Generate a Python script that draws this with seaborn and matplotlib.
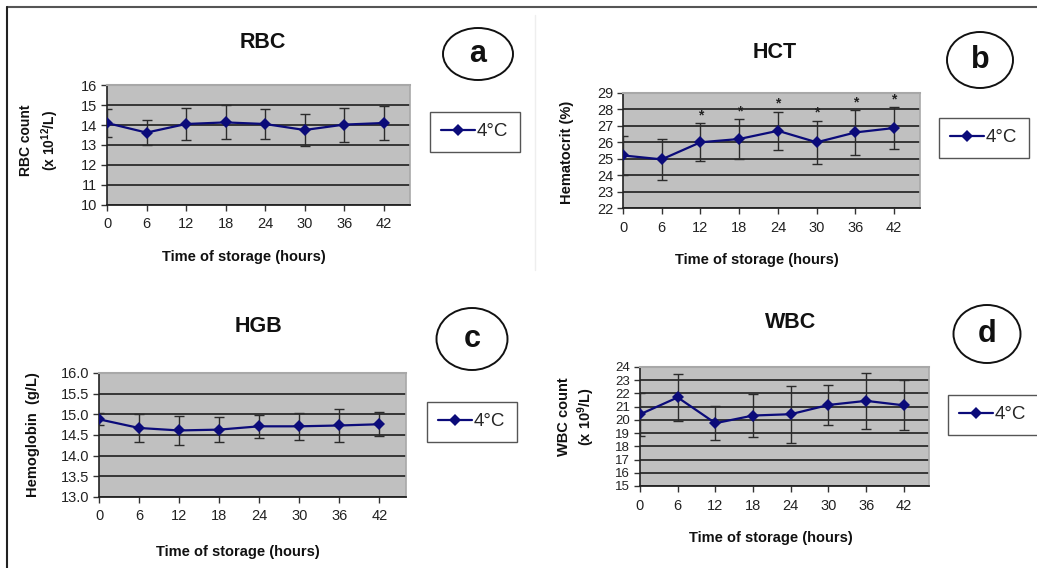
import matplotlib
matplotlib.use("Agg")
import matplotlib.pyplot as plt
import seaborn as sns
import pandas as pd
import numpy as np
from matplotlib.patches import Ellipse
from matplotlib.lines import Line2D

sns.set_theme(style="white")
plt.rcParams["font.family"] = ["Liberation Sans", "DejaVu Sans"]
plt.rcParams["mathtext.fontset"] = "custom"
plt.rcParams["mathtext.bf"] = "Liberation Sans:bold"
plt.rcParams["mathtext.rm"] = "Liberation Sans"
plt.rcParams["mathtext.default"] = "bf"

# dados (média e desvio padrão por tempo de armazenamento)
HORAS = [0, 6, 12, 18, 24, 30, 36, 42]

RBC_MEDIA = [14.1, 13.62, 14.05, 14.13, 14.05, 13.75, 14.02, 14.1]
RBC_DP = [0.7, 0.63, 0.8, 0.85, 0.77, 0.8, 0.85, 0.87]

HCT_MEDIA = [25.2, 24.96, 26.0, 26.2, 26.7, 26.0, 26.6, 26.87]
HCT_DP = [1.2, 1.25, 1.15, 1.2, 1.15, 1.3, 1.35, 1.25]
HCT_SIGNIF = [False, False, True, True, True, True, True, True]

HGB_MEDIA = [14.88, 14.67, 14.61, 14.63, 14.71, 14.71, 14.73, 14.76]
HGB_DP = [0.15, 0.35, 0.34, 0.31, 0.28, 0.32, 0.4, 0.29]

WBC_MEDIA = [20.42, 21.7, 19.75, 20.33, 20.43, 21.13, 21.44, 21.1]
WBC_DP = [1.65, 1.75, 1.3, 1.65, 2.15, 1.5, 2.1, 1.9]

LEGENDA = "4°C"
XLABEL = "Time of storage (hours)"

W, H = 1037, 568
fig = plt.figure(figsize=(W / 100, H / 100), dpi=100)
fig.patch.set_facecolor("white")


def fx(x):
    return x / W


def fy(y):
    return 1 - y / H


paineis = [
    dict(media=RBC_MEDIA, dp=RBC_DP, sig=None, titulo="RBC", letra="a",
         ylabel="RBC count\n(x 10$^{12}$/L)", ylab_size=10, ylab_ls=1.35,
         ylim=(10, 16), passo=1, fmt="{:.0f}", tick_size=10.5,
         caixa=(107, 85, 410, 205), pos_titulo=(263, 43), pos_ylabel=(40, 140),
         pos_xlabel=(244, 257), elipse=(478, 54, 70, 52), pos_leg=(430, 112)),
    dict(media=HCT_MEDIA, dp=HCT_DP, sig=HCT_SIGNIF, titulo="HCT", letra="b",
         ylabel="Hematocrit (%)", ylab_size=10.5, ylab_ls=1.2,
         ylim=(22, 29), passo=1, fmt="{:.0f}", tick_size=10.5,
         caixa=(623, 93, 920, 208), pos_titulo=(775, 52), pos_ylabel=(567, 152),
         pos_xlabel=(757, 260), elipse=(980, 60, 66, 56), pos_leg=(939, 118)),
    dict(media=HGB_MEDIA, dp=HGB_DP, sig=None, titulo="HGB", letra="c",
         ylabel="Hemoglobin  (g/L)", ylab_size=10.5, ylab_ls=1.2,
         ylim=(13, 16), passo=0.5, fmt="{:.1f}", tick_size=10.5,
         caixa=(99, 373, 406, 497), pos_titulo=(258, 327), pos_ylabel=(33, 435),
         pos_xlabel=(238, 552), elipse=(472, 339, 71, 62), pos_leg=(427, 402)),
    dict(media=WBC_MEDIA, dp=WBC_DP, sig=None, titulo="WBC", letra="d",
         ylabel="WBC count\n(x 10$^{9}$/L)", ylab_size=10.5, ylab_ls=1.25,
         ylim=(15, 24), passo=1, fmt="{:.0f}", tick_size=9.5,
         caixa=(640, 367, 929, 486), pos_titulo=(791, 322), pos_ylabel=(577, 417),
         pos_xlabel=(771, 538), elipse=(987, 334, 67, 58), pos_leg=(948, 395)),
]

COR_LINHA = "#0b0b7a"

for p in paineis:
    x0, y0, x1, y1 = p["caixa"]
    ax = fig.add_axes([fx(x0), fy(y1), (x1 - x0) / W, (y1 - y0) / H])
    ax.set_facecolor("#c0c0c0")

    base = pd.DataFrame({"Horas": HORAS, "Valor": p["media"]})
    ax.errorbar(HORAS, p["media"], yerr=p["dp"], fmt="none", ecolor="#2b2b2b",
                elinewidth=1, capsize=3.5, capthick=1, zorder=3)
    sns.lineplot(data=base, x="Horas", y="Valor", ax=ax, color=COR_LINHA,
                 marker="D", markersize=6, markeredgewidth=0, linewidth=1.6,
                 label=LEGENDA, zorder=4)

    if p["sig"] is not None:
        for h, m, d, s in zip(HORAS, p["media"], p["dp"], p["sig"]):
            if s:
                ax.text(h, m + d + 0.5, "*", ha="center", va="center",
                        fontsize=10, fontweight="bold", color="#222222")

    ymin, ymax = p["ylim"]
    ticks = np.arange(ymin, ymax + p["passo"] / 2, p["passo"])
    ax.set_ylim(ymin, ymax)
    ax.set_yticks(ticks)
    ax.set_yticklabels([p["fmt"].format(t) for t in ticks])
    ax.set_xlim(0, 46)
    ax.set_xticks(HORAS)
    ax.set_xticklabels([str(h) for h in HORAS])

    ax.set_axisbelow(True)
    ax.yaxis.grid(True, color="#363636", linewidth=1.4)
    ax.xaxis.grid(False)
    ax.tick_params(axis="both", bottom=True, left=True, direction="out", length=4,
                   width=1, color="#333333", labelcolor="#222222", pad=3)
    ax.tick_params(axis="y", labelsize=p["tick_size"])
    ax.tick_params(axis="x", labelsize=10.5, pad=5)
    ax.spines["left"].set_color("#222222")
    ax.spines["bottom"].set_color("#222222")
    ax.spines["left"].set_linewidth(1.2)
    ax.spines["bottom"].set_linewidth(1.3)
    ax.spines["top"].set_color("#a8a8a8")
    ax.spines["right"].set_color("#a8a8a8")
    ax.spines["top"].set_linewidth(1.5)
    ax.spines["right"].set_linewidth(1.2)
    ax.set_xlabel("")
    ax.set_ylabel("")

    leg = ax.legend(loc="upper left", bbox_to_anchor=(fx(p["pos_leg"][0]), fy(p["pos_leg"][1])),
                    bbox_transform=fig.transFigure, borderaxespad=0, fontsize=13.5,
                    frameon=True, fancybox=False, framealpha=1, edgecolor="#555555",
                    borderpad=0.6, handlelength=1.8, handletextpad=0.1)
    leg.get_frame().set_linewidth(1.0)

    fig.text(fx(p["pos_titulo"][0]), fy(p["pos_titulo"][1]), p["titulo"], ha="center",
             va="center", fontsize=15.5, fontweight="bold", color="#111111")
    fig.text(fx(p["pos_xlabel"][0]), fy(p["pos_xlabel"][1]), XLABEL, ha="center",
             va="center", fontsize=10.5, fontweight="bold", color="#111111")
    fig.text(fx(p["pos_ylabel"][0]), fy(p["pos_ylabel"][1]), p["ylabel"], ha="center",
             va="center", rotation=90, fontsize=p["ylab_size"], fontweight="bold",
             color="#111111", linespacing=p["ylab_ls"], multialignment="center")

    ex, ey, ew, eh = p["elipse"]
    fig.add_artist(Ellipse((fx(ex), fy(ey)), ew / W, eh / H, transform=fig.transFigure,
                           facecolor="white", edgecolor="#111111", linewidth=1.4))
    fig.text(fx(ex), fy(ey), p["letra"], ha="center", va="center", fontsize=22,
             fontweight="bold", color="#111111")

# moldura da figura original
fig.add_artist(Line2D([fx(7), 1], [fy(7), fy(7)], transform=fig.transFigure,
                      color="#555555", linewidth=1.5))
fig.add_artist(Line2D([fx(7), fx(7)], [fy(7), 0], transform=fig.transFigure,
                      color="#222222", linewidth=1.5))
fig.add_artist(Line2D([fx(535), fx(535)], [fy(15), fy(270)], transform=fig.transFigure,
                      color="#eeeeee", linewidth=1))

fig.savefig("out.png", dpi=100)
